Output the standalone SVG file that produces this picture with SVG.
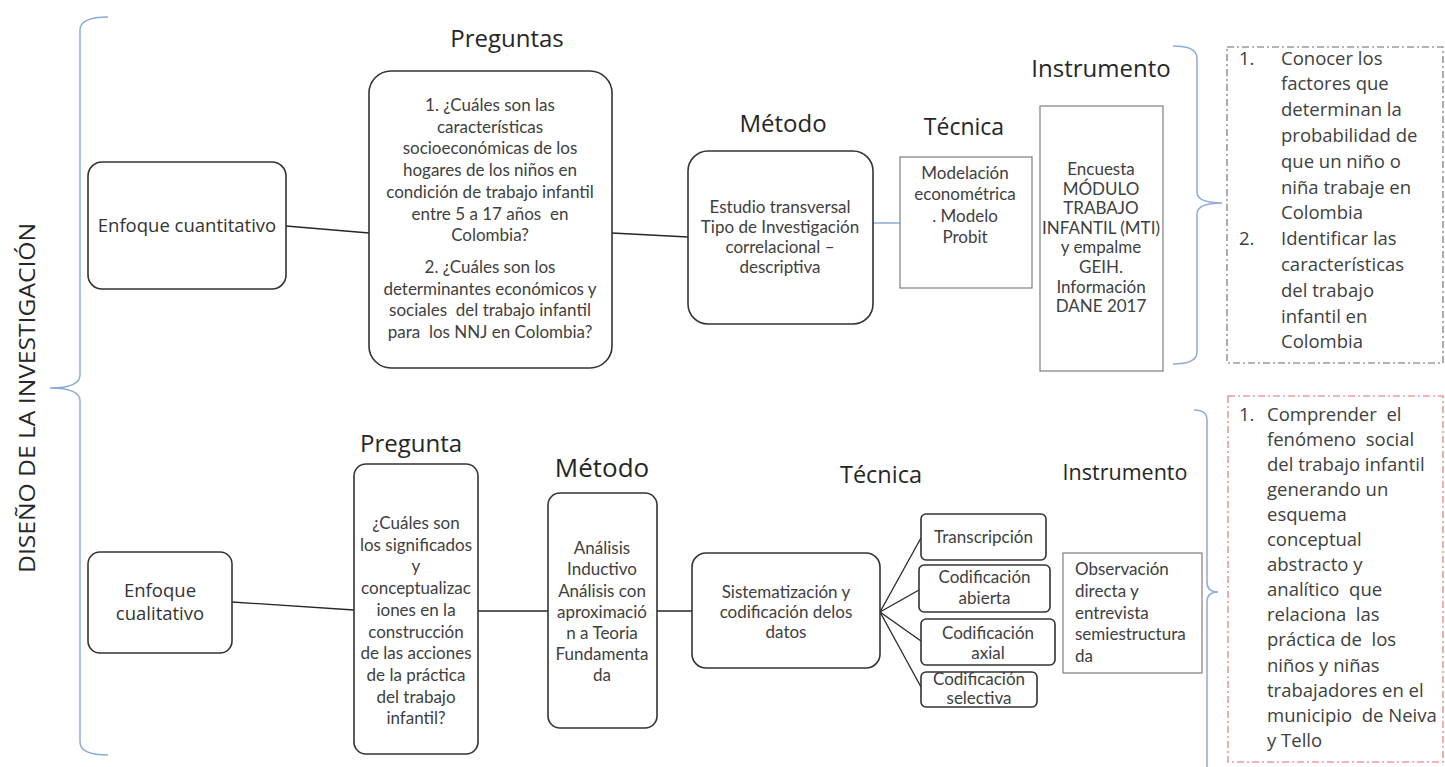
<svg xmlns="http://www.w3.org/2000/svg" width="1445" height="767" viewBox="0 0 1445 767">
<style>
.box{fill:#fff;stroke:#333;stroke-width:1.6}
.sq{fill:#fff;stroke:#7f7f7f;stroke-width:1.2}
.t{font-family:Lato,"Liberation Sans",sans-serif;font-size:17px;fill:#404040;text-anchor:middle}
.tl{font-family:Lato,"Liberation Sans",sans-serif;font-size:17px;fill:#404040}
.e{font-family:"Open Sans","Liberation Sans",sans-serif;font-size:18.5px;fill:#333;text-anchor:middle}
.d{font-family:"Open Sans","Liberation Sans",sans-serif;font-size:18.5px;fill:#404040}
.h{font-family:"Open Sans","Liberation Sans",sans-serif;font-size:24px;fill:#262626;text-anchor:middle}
.p{white-space:pre}
.br{fill:none;stroke:#8eaadb;stroke-width:1.5}
.ln{fill:none;stroke:#262626;stroke-width:1.3}
.lb{fill:none;stroke:#8eaadb;stroke-width:1.5}
.dash1{fill:#fff;stroke:#6b6b6b;stroke-width:1.1;stroke-dasharray:7 3 2 3}
.dash2{fill:#fff;stroke:#e06c6c;stroke-width:1.1;stroke-dasharray:7 3 2 3}
</style>

<g id="braces">
<path class="br" d="M108,17 Q80,17 80,30 L80,375 Q80,388 50,388 Q80,388 80,401 L80,742 Q80,755 108,755"/>
<path class="br" d="M1173,46 Q1197,46 1197,58 L1197,192 Q1197,203 1222,203 Q1197,203 1197,214 L1197,352 Q1197,364 1173,364"/>
<path class="br" d="M1194,410 Q1207,410 1207,420 L1207,582 Q1207,592 1218,592 Q1207,592 1207,602 L1207,775"/>
</g>

<g id="title">
<text transform="translate(35,398) rotate(-90)" font-family="'Open Sans','Liberation Sans',sans-serif" font-size="21" fill="#262626" text-anchor="middle" textLength="350" lengthAdjust="spacingAndGlyphs">DISEÑO DE LA INVESTIGACIÓN</text>
</g>

<g id="headers">
<text class="h" x="507" y="47">Preguntas</text>
<text class="h" x="783" y="132">Método</text>
<text class="h" x="964" y="135" style="font-size:23px">Técnica</text>
<text class="h" x="1101" y="77">Instrumento</text>
<text class="h" x="411" y="452">Pregunta</text>
<text class="h" x="602" y="477" style="font-size:26px">Método</text>
<text class="h" x="881" y="483" style="font-size:23.5px">Técnica</text>
<text class="h" x="1125" y="480" style="font-size:21.5px">Instrumento</text>
</g>

<g id="connectors">
<path class="ln" d="M286,226 L369,233"/>
<path class="ln" d="M612,233 L688,237"/>
<path class="lb" d="M873,223 L900,223"/>
<path class="ln" d="M232,602 L354,610"/>
<path class="ln" d="M478,611 L548,611"/>
<path class="ln" d="M657,611 L692,611"/>
<path class="ln" d="M880,612 L921,538"/>
<path class="ln" d="M880,612 L919,590"/>
<path class="ln" d="M880,612 L921,641"/>
<path class="ln" d="M880,612 L921,687"/>
</g>

<g id="enfoque-cuantitativo">
<rect class="box" x="88" y="162" width="198" height="127" rx="14"/>
<text class="e" x="187" y="231.5">Enfoque cuantitativo</text>
</g>

<g id="preguntas">
<rect class="box" x="369" y="71" width="243" height="297" rx="22"/>
<text class="t"><tspan x="490" y="111">1. ¿Cuáles son las</tspan><tspan x="490" y="132.7">características</tspan><tspan x="490" y="154.4">socioeconómicas de los</tspan><tspan x="490" y="176.1">hogares de los niños en</tspan><tspan x="490" y="197.8">condición de trabajo infantil</tspan><tspan class="p" x="490" y="219.5">entre 5 a 17 años  en</tspan><tspan x="490" y="241.2">Colombia?</tspan><tspan x="490" y="273">2. ¿Cuáles son los</tspan><tspan x="490" y="294.7">determinantes económicos y</tspan><tspan class="p" x="490" y="316.4">sociales  del trabajo infantil</tspan><tspan class="p" x="490" y="338.1">para  los NNJ en Colombia?</tspan></text>
</g>

<g id="metodo-1">
<rect class="box" x="688" y="151" width="185" height="173" rx="20"/>
<text class="t"><tspan x="780" y="213">Estudio transversal</tspan><tspan x="780" y="233">Tipo de Investigación</tspan><tspan x="780" y="253">correlacional –</tspan><tspan x="780" y="273">descriptiva</tspan></text>
</g>

<g id="tecnica-1">
<rect class="sq" x="900" y="157" width="132" height="131"/>
<text class="t"><tspan x="965" y="179">Modelación</tspan><tspan x="965" y="200">econométrica</tspan><tspan x="965" y="222">. Modelo</tspan><tspan x="965" y="243">Probit</tspan></text>
</g>

<g id="instrumento-1">
<rect class="sq" x="1040" y="106" width="123" height="265"/>
<text class="t"><tspan x="1101" y="175">Encuesta</tspan><tspan x="1101" y="194.6">MÓDULO</tspan><tspan x="1101" y="214.2">TRABAJO</tspan><tspan x="1101" y="233.8">INFANTIL (MTI)</tspan><tspan x="1101" y="253.4">y empalme</tspan><tspan x="1101" y="273">GEIH.</tspan><tspan x="1101" y="292.6">Información</tspan><tspan x="1101" y="312.2">DANE 2017</tspan></text>
</g>

<g id="objetivos-1">
<rect class="dash1" x="1227" y="47" width="216" height="316"/>
<text class="d"><tspan x="1239" y="64.5">1.</tspan><tspan x="1281" y="64.5">Conocer los</tspan><tspan x="1281" y="90.3">factores que</tspan><tspan x="1281" y="116.1">determinan la</tspan><tspan x="1281" y="141.9">probabilidad de</tspan><tspan x="1281" y="167.7">que un niño o</tspan><tspan x="1281" y="193.5">niña trabaje en</tspan><tspan x="1281" y="219.3">Colombia</tspan><tspan x="1239" y="245.1">2.</tspan><tspan x="1281" y="245.1">Identificar las</tspan><tspan x="1281" y="270.9">características</tspan><tspan x="1281" y="296.7">del trabajo</tspan><tspan x="1281" y="322.5">infantil en</tspan><tspan x="1281" y="348.3">Colombia</tspan></text>
</g>

<g id="enfoque-cualitativo">
<rect class="box" x="88" y="552" width="144" height="101" rx="12"/>
<text class="e"><tspan x="160" y="596.5">Enfoque</tspan><tspan x="160" y="619.5">cualitativo</tspan></text>
</g>

<g id="pregunta">
<rect class="box" x="354" y="464" width="124" height="290" rx="12"/>
<text class="t"><tspan x="416" y="529">¿Cuáles son</tspan><tspan x="416" y="550.7">los significados</tspan><tspan x="416" y="572.4">y</tspan><tspan x="416" y="594.1">conceptualizac</tspan><tspan x="416" y="615.8">iones en la</tspan><tspan x="416" y="637.5">construcción</tspan><tspan x="416" y="659.2">de las acciones</tspan><tspan x="416" y="680.9">de la práctica</tspan><tspan x="416" y="702.6">del trabajo</tspan><tspan x="416" y="724.3">infantil?</tspan></text>
</g>

<g id="metodo-2">
<rect class="box" x="548" y="493" width="109" height="235" rx="12"/>
<text class="t"><tspan x="602" y="554">Análisis</tspan><tspan x="602" y="575">Inductivo</tspan><tspan x="602" y="597">Análisis con</tspan><tspan x="602" y="618">aproximació</tspan><tspan x="602" y="639">n a Teoria</tspan><tspan x="602" y="660">Fundamenta</tspan><tspan x="602" y="681">da</tspan></text>
</g>

<g id="tecnica-2">
<rect class="box" x="692" y="553" width="188" height="115" rx="14"/>
<text class="t"><tspan x="786" y="598">Sistematización y</tspan><tspan x="786" y="618">codificación delos</tspan><tspan x="786" y="638">datos</tspan></text>
</g>

<g id="transcripcion">
<rect class="box" x="921" y="514" width="125" height="46" rx="5"/>
<text class="t" x="983.5" y="543">Transcripción</text>
</g>

<g id="codificacion-abierta">
<rect class="box" x="919" y="565" width="131" height="47" rx="5"/>
<text class="t"><tspan x="984.5" y="583">Codificación</tspan><tspan x="984.5" y="604">abierta</tspan></text>
</g>

<g id="codificacion-axial">
<rect class="box" x="921" y="619" width="134" height="46" rx="5"/>
<text class="t"><tspan x="988" y="639">Codificación</tspan><tspan x="988" y="659">axial</tspan></text>
</g>

<g id="codificacion-selectiva">
<rect class="box" x="921" y="672" width="116" height="35" rx="5"/>
<text class="t"><tspan x="979" y="685">Codificación</tspan><tspan x="979" y="704">selectiva</tspan></text>
</g>

<g id="instrumento-2">
<rect class="sq" x="1063" y="553" width="139" height="120"/>
<text class="tl"><tspan x="1075" y="575">Observación</tspan><tspan x="1075" y="597">directa y</tspan><tspan x="1075" y="619">entrevista</tspan><tspan x="1075" y="640">semiestructura</tspan><tspan x="1075" y="662">da</tspan></text>
</g>

<g id="objetivos-2">
<rect class="dash2" x="1228" y="396" width="215" height="366"/>
<text class="d"><tspan x="1239" y="420.5">1.</tspan><tspan class="p" x="1267" y="420.5">Comprender  el</tspan><tspan class="p" x="1267" y="445.6">fenómeno  social</tspan><tspan x="1267" y="470.7">del trabajo infantil</tspan><tspan x="1267" y="495.8">generando un</tspan><tspan x="1267" y="520.9">esquema</tspan><tspan x="1267" y="546">conceptual</tspan><tspan x="1267" y="571.1">abstracto y</tspan><tspan class="p" x="1267" y="596.2">analítico  que</tspan><tspan class="p" x="1267" y="621.3">relaciona  las</tspan><tspan class="p" x="1267" y="646.4">práctica de  los</tspan><tspan x="1267" y="671.5">niños y niñas</tspan><tspan x="1267" y="696.6">trabajadores en el</tspan><tspan class="p" x="1267" y="721.7">municipio  de Neiva</tspan><tspan x="1267" y="746.8">y Tello</tspan></text>
</g>
</svg>
